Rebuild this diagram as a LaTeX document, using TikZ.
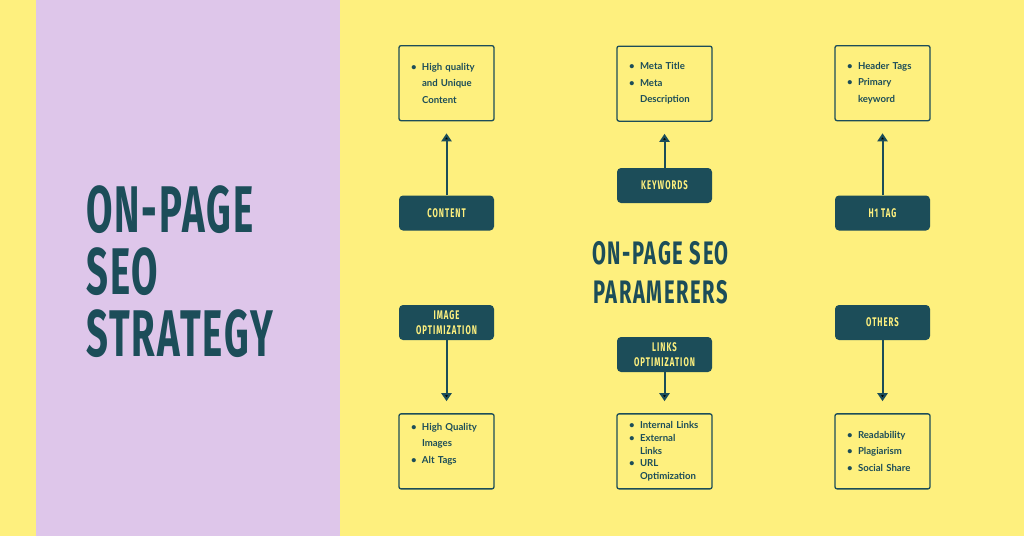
\documentclass[tikz,border=0pt]{standalone}
\usepackage{fontspec}
\usetikzlibrary{positioning, arrows.meta}
\newfontfamily\condfont[FakeStretch=0.62, LetterSpace=8]{Fira Sans}
\newfontfamily\headfont[FakeStretch=0.58, LetterSpace=3]{Fira Sans}
\newfontfamily\midfont[FakeStretch=0.62, LetterSpace=5]{Fira Sans}
\newfontfamily\listfont{Lato}
\definecolor{seoyellow}{HTML}{FEF07E}
\definecolor{seopurple}{HTML}{DEC6EA}
\definecolor{seoteal}{HTML}{1C4D59}
\newcommand\bitem{\makebox[11pt][l]{\textbullet}}
\newcommand\bcont{\hspace*{11pt}}
\tikzset{
->, % every connector is an arrow
>={Triangle[width=10pt,length=8pt]}, % solid triangle heads
param/.style={fill=seoteal, text=seoyellow, rounded corners=4pt, minimum width=95pt, minimum height=35pt, align=center, font=\condfont\bfseries\fontsize{12.5}{15}\selectfont}, % dark parameter boxes
detail/.style={draw=seoteal, line width=1.3pt, rounded corners=2pt, minimum width=95pt, minimum height=75pt, text width=71pt, inner xsep=12pt, align=left, text=seoteal, font=\listfont\bfseries\fontsize{9.6}{16.5}\selectfont}, % bullet boxes
link/.style={draw=seoteal, line width=2pt, shorten >=12pt},
}

\begin{document}
\begin{tikzpicture}[x=1pt, y=-1pt]
    \useasboundingbox (0,0) rectangle (1024,536);
    \fill[seoyellow] (0,0) rectangle (1024,536);
    \fill[seopurple] (36,0) rectangle (340,536);

    \node[anchor=north west, align=left, inner sep=0, text=seoteal, font=\headfont\bfseries\fontsize{66}{62}\selectfont] (strategy) at (86,185) {ON-PAGE\\SEO\\STRATEGY};
    \node[anchor=north, align=center, inner sep=0, text=seoteal, font=\midfont\bfseries\fontsize{32.5}{39}\selectfont] (params) at (660.5,241) {ON-PAGE SEO\\PARAMERERS};

    \node[param] (content) at (446.5,213) {CONTENT};
    \node[param] (keywords) at (664.5,185.5) {KEYWORDS};
    \node[param] (h1tag) at (882.5,213) {H1 TAG};
    \node[param] (image) at (446.5,322.5) {IMAGE\\OPTIMIZATION};
    \node[param] (links) at (664.5,354.5) {LINKS\\OPTIMIZATION};
    \node[param] (others) at (882.5,322.5) {OTHERS};

    \node[detail, above=74pt of content] (contenttext) {\bitem High quality\\\bcont and Unique\\\bcont Content};
    \node[detail, above=46pt of keywords] (keywordstext) {\bitem Meta Title\\\bitem Meta\\\bcont Description};
    \node[detail, above=74pt of h1tag] (h1tagtext) {\bitem Header Tags\\\bitem Primary\\\bcont keyword};
    \node[detail, below=73pt of image] (imagetext) {\bitem High Quality\\\bcont Images\\\bitem Alt Tags\\\mbox{}};
    \node[detail, below=41pt of links, font=\listfont\bfseries\fontsize{9.6}{12.7}\selectfont] (linkstext) {\bitem Internal Links\\\bitem External\\\bcont Links\\\bitem URL\\\bcont Optimization};
    \node[detail, below=73pt of others] (otherstext) {\bitem Readability\\\bitem Plagiarism\\\bitem Social Share};

    \draw[link]
    (content) edge (contenttext)
    (keywords) edge (keywordstext)
    (h1tag) edge (h1tagtext)
    (image) edge (imagetext)
    (links) edge (linkstext)
    (others) edge (otherstext);
\end{tikzpicture}
\end{document}
